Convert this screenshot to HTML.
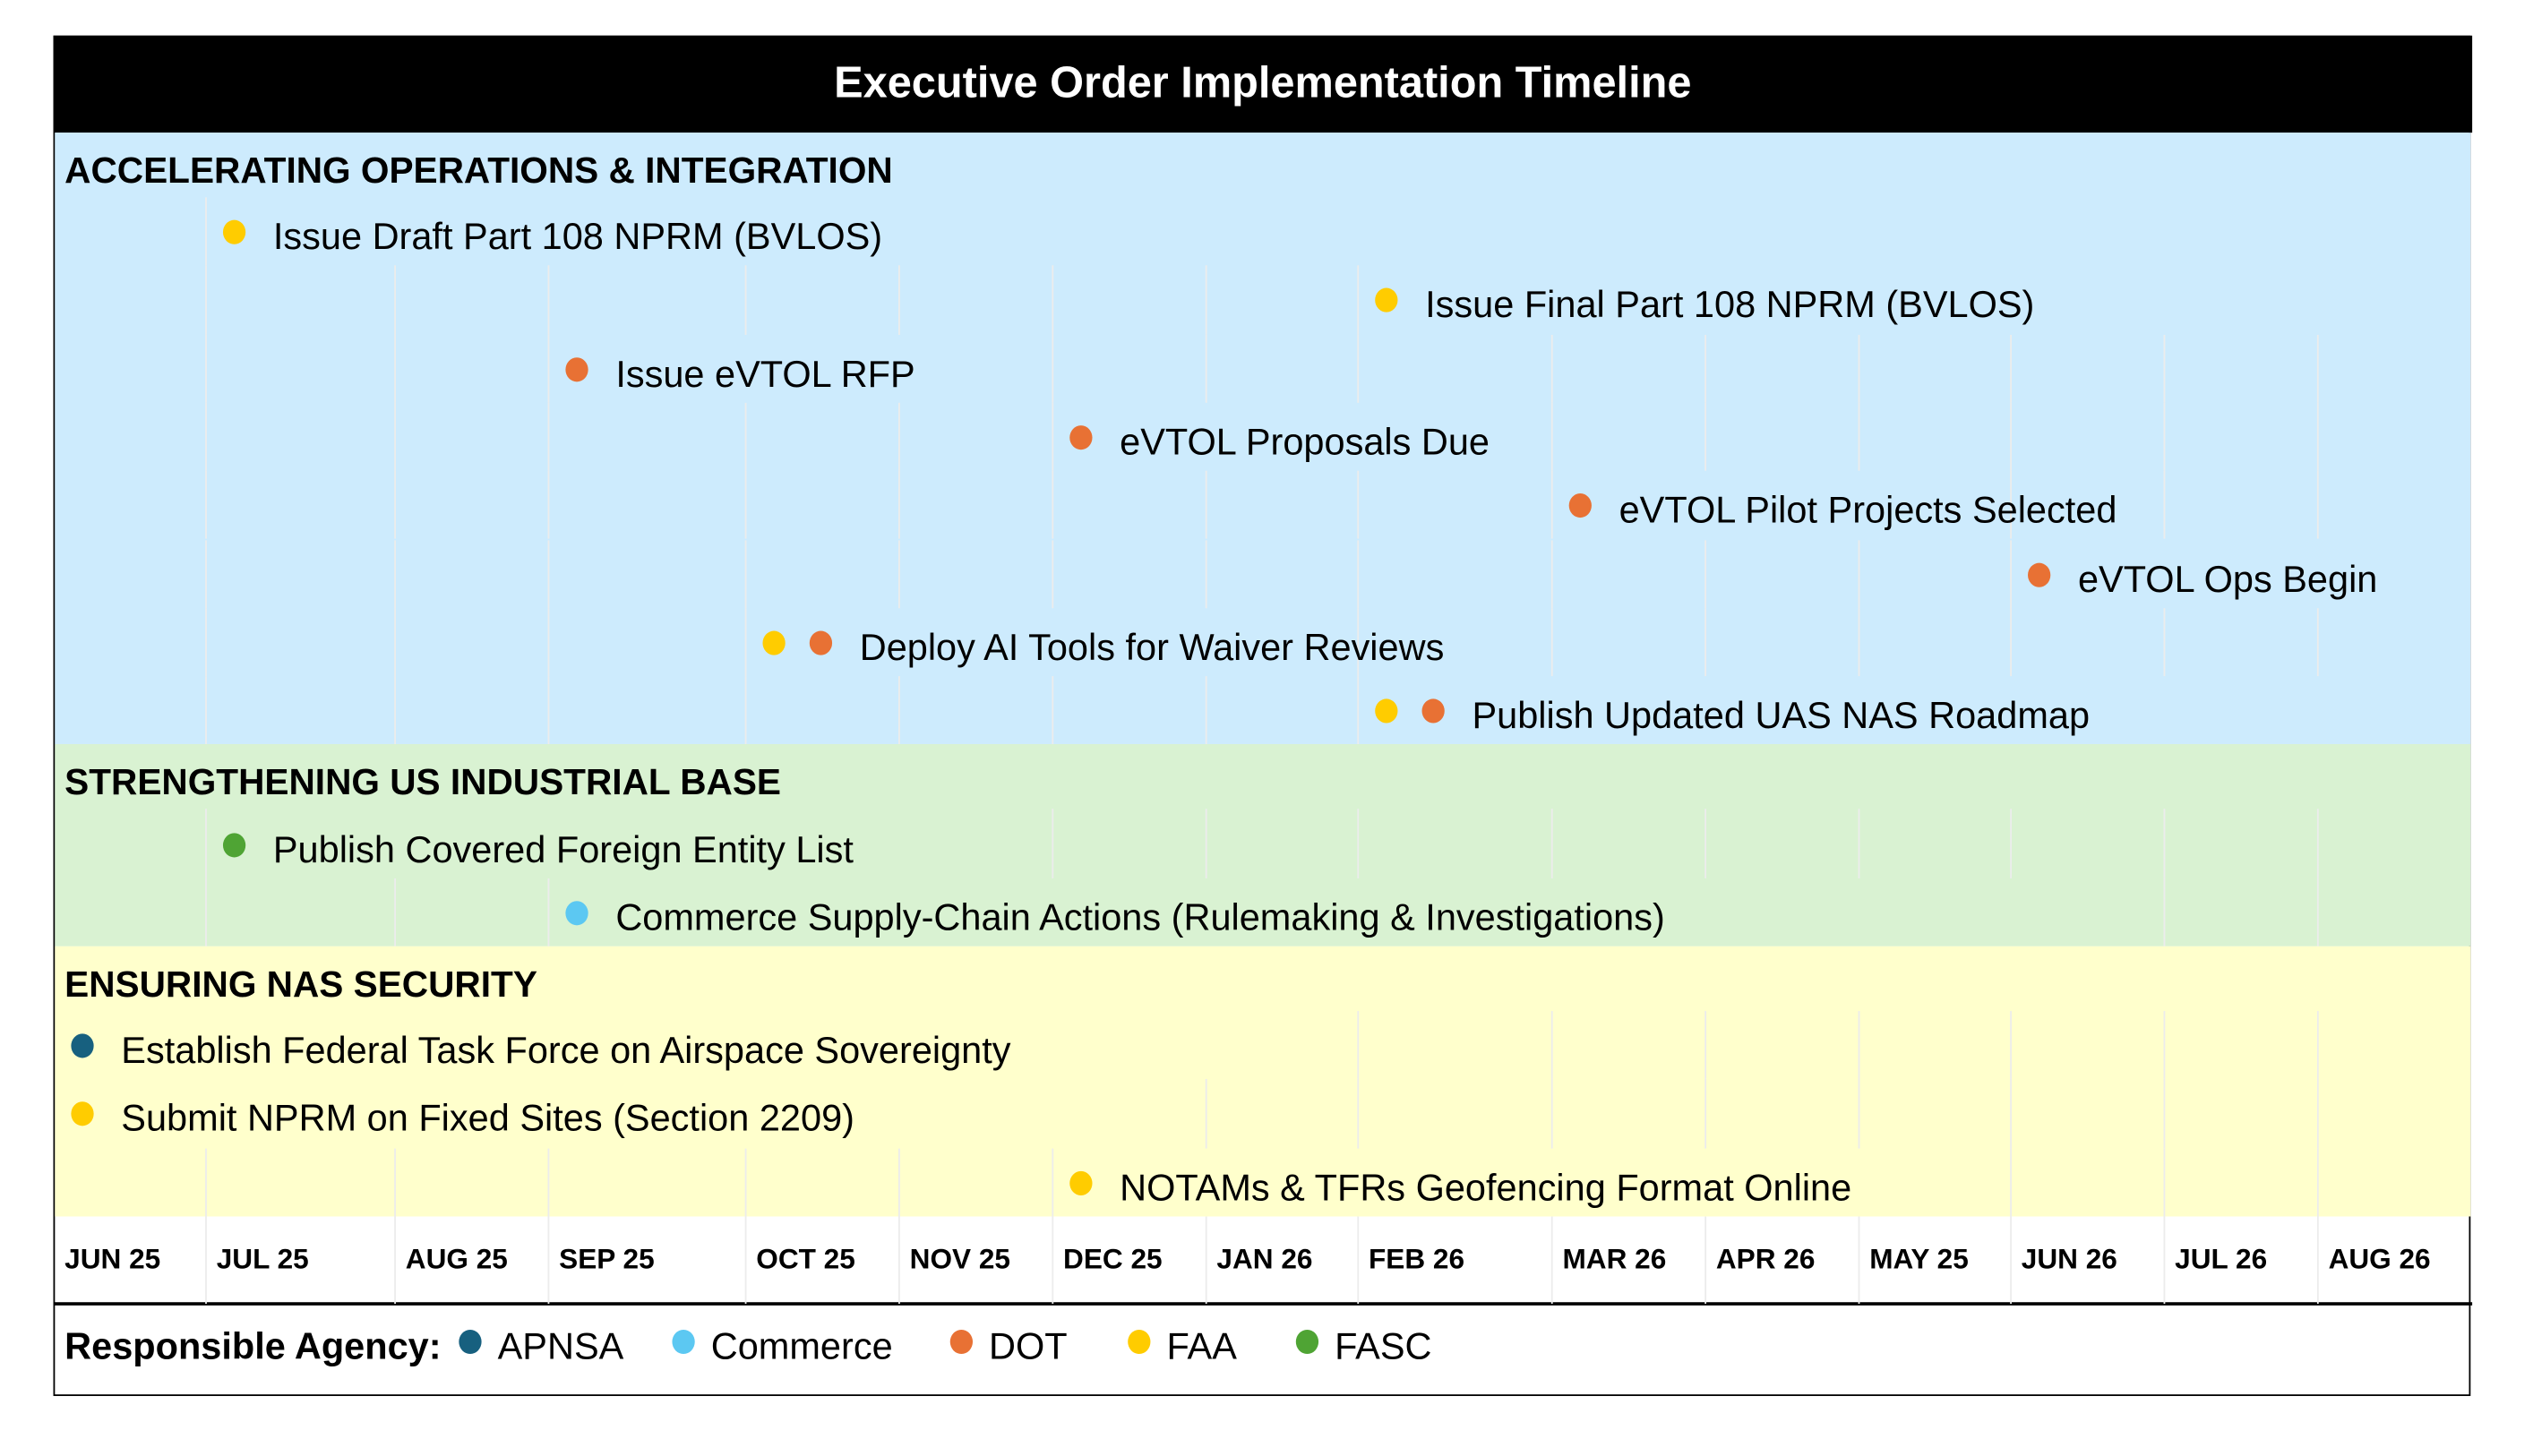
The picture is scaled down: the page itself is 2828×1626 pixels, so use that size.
<!DOCTYPE html>
<html><head><meta charset="utf-8">
<style>
html,body{margin:0;padding:0;background:#fff;}
body{width:2828px;height:1622px;overflow:hidden;position:relative;font-family:"Liberation Sans",Arial,sans-serif;}
#wrap{position:absolute;left:0;top:0;width:1560px;height:900px;transform:scale(1.8040,1.8065);transform-origin:0 0;}
.abs{position:absolute;}
.t{position:absolute;white-space:nowrap;line-height:1;}
.dot{position:absolute;width:14px;height:15px;border-radius:50%;}
.vl{position:absolute;width:1px;background:#ececec;}
</style></head>
<body>
<div id="wrap">
  <div class="abs" style="left:33px;top:22px;width:1494px;height:839px;border:1.5px solid #000;"></div>
  <div class="abs" style="left:33px;top:22px;width:1497px;height:60px;background:#000;"></div>
  <div class="t" style="left:33px;width:1497px;top:38px;text-align:center;color:#fff;font-weight:bold;font-size:27px;">Executive Order Implementation Timeline</div>
  <div class="abs" style="left:33px;top:805px;width:1497px;height:2px;background:#000;"></div>
</div>
<script>
const monthLabels=["JUN 25","JUL 25","AUG 25","SEP 25","OCT 25","NOV 25","DEC 25","JAN 26","FEB 26","MAR 26","APR 26","MAY 25","JUN 26","JUL 26","AUG 26"];
const agencies=["APNSA","Commerce","DOT","FAA","FASC"];
const agencyColors={APNSA:"#17607f",Commerce:"#5cc8f2",DOT:"#e87134",FAA:"#ffcc00",FASC:"#4fa434"};
const sectionTitles=["ACCELERATING OPERATIONS & INTEGRATION","STRENGTHENING US INDUSTRIAL BASE","ENSURING NAS SECURITY"];
const sectionColors=["#cdebfd","#d9f2d2","#ffffcc"];
const itemLabels=[
 ["Issue Draft Part 108 NPRM (BVLOS)","Issue Final Part 108 NPRM (BVLOS)","Issue eVTOL RFP","eVTOL Proposals Due","eVTOL Pilot Projects Selected","eVTOL Ops Begin","Deploy AI Tools for Waiver Reviews","Publish Updated UAS NAS Roadmap"],
 ["Publish Covered Foreign Entity List","Commerce Supply-Chain Actions (Rulemaking & Investigations)"],
 ["Establish Federal Task Force on Airspace Sovereignty","Submit NPRM on Fixed Sites (Section 2209)","NOTAMs & TFRs Geofencing Format Online"]];
const itemStartMonth=[[1,8,3,6,9,12,4,8],[1,3],[0,0,6]];
const itemSpan=[[14,7,3,3,3,3,4,7],[5,10],[8,7,6]];
const itemAgencies=[[["FAA"],["FAA"],["DOT"],["DOT"],["DOT"],["DOT"],["FAA","DOT"],["FAA","DOT"]],[["FASC"],["Commerce"]],[["APNSA"],["FAA"],["FAA"]]];

const colEdges=[33,127,244,339,461,556,651,746,840,960,1055,1150,1244,1339,1434,1529];
const headerH=40, rowH=42.3, topY=82;
const wrap=document.getElementById('wrap');
function mk(cls,name){const e=document.createElement('div');e.className=cls;


wrap.appendChild(e);return e;}
function slug(s){return s.toLowerCase().replace(/[^a-z0-9]+/g,'-').replace(/^-|-$/g,'');}

let y=topY;
sectionTitles.forEach((title,si)=>{
  const n=itemLabels[si].length;
  const h=headerH+n*rowH;
  const bg=mk('abs','section-'+(si+1)+'-background');
  bg.style.cssText=`left:34px;top:${y}px;width:1495px;height:${h}px;background:${sectionColors[si]};`;
  const ht=mk('t','section-'+(si+1)+'-title');
  ht.textContent=title;
  ht.style.cssText+=`left:40px;top:${y+headerH/2-7}px;font-size:22.5px;font-weight:bold;`;
  for(let r=0;r<n;r++){
    const ry=y+headerH+r*rowH;
    const s=itemStartMonth[si][r], sp=itemSpan[si][r];
    for(let c=1;c<monthLabels.length;c++){
      if(c>s && c<s+sp) continue;
      const l=mk('vl','grid-line');
      l.style.cssText=`left:${colEdges[c]}px;top:${ry}px;height:${rowH}px;`;
    }
    const x0=colEdges[s];
    itemAgencies[si][r].forEach((a,k)=>{
      const d=mk('dot','milestone-dot-'+slug(a));
      d.style.cssText=`left:${x0+11+k*29}px;top:${ry+rowH/2-7}px;background:${agencyColors[a]};`;
    });
    const t=mk('t','milestone-label-'+slug(itemLabels[si][r]));
    t.textContent=itemLabels[si][r];
    t.style.cssText+=`left:${x0+42+(itemAgencies[si][r].length-1)*29}px;top:${ry+rowH/2-8}px;font-size:23px;`;
  }
  y+=h;
});
const axisTop=y, axisBot=806;
for(let c=0;c<monthLabels.length;c++){
  if(c>0){const l=mk('vl','axis-grid-line');l.style.cssText=`left:${colEdges[c]}px;top:${axisTop}px;height:${axisBot-axisTop}px;`;}
  const t=mk('t','month-label-'+slug(monthLabels[c]));
  t.textContent=monthLabels[c];
  t.style.cssText+=`left:${colEdges[c]+7}px;top:${(axisTop+axisBot)/2-9}px;font-size:17.5px;font-weight:bold;`;
}
const lt=mk('t','legend-title');
lt.textContent='Responsible Agency:';
lt.style.cssText+='left:40px;top:821px;font-size:23px;font-weight:bold;';
const legendX=[284,416,588,698,802];
agencies.forEach((a,i)=>{
  const d=mk('dot','legend-dot-'+slug(a));
  d.style.cssText=`left:${legendX[i]}px;top:822px;background:${agencyColors[a]};`;
  const t=mk('t','legend-entry-'+slug(a));
  t.textContent=a;
  t.style.cssText+=`left:${legendX[i]+24}px;top:821px;font-size:23px;`;
});
</script>
</body></html>
